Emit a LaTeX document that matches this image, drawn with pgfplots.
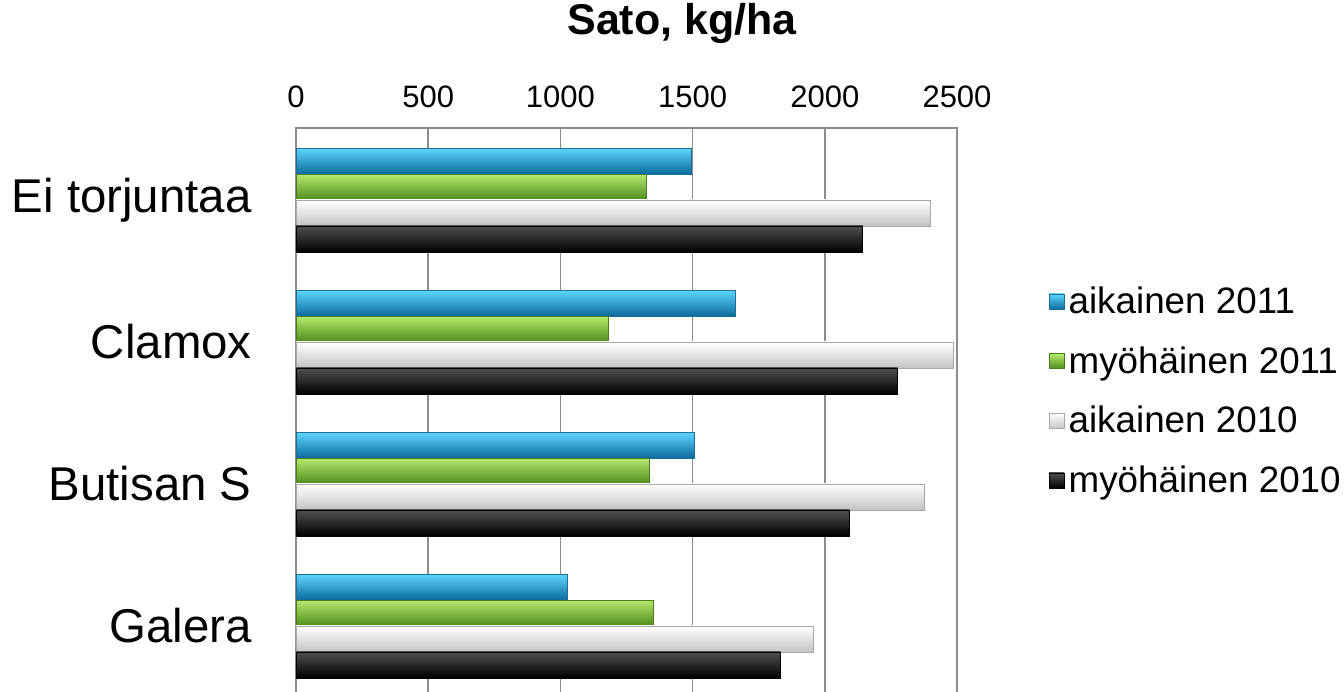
\documentclass[border=0pt]{standalone}
\usepackage{fontspec}
\setmainfont{Liberation Sans}
\usepackage{pgfplots}
\pgfplotsset{compat=1.18}
\definecolor{gridc}{HTML}{8C8C8C}
\definecolor{bT}{HTML}{5FD6FC}\definecolor{bM}{HTML}{1AA0DA}\definecolor{bB}{HTML}{0B6B9C}\definecolor{bD}{HTML}{1B6F96}
\definecolor{gT}{HTML}{B6EA6E}\definecolor{gM}{HTML}{7DB72F}\definecolor{gB}{HTML}{4F8A1C}\definecolor{gD}{HTML}{4E7A1E}
\definecolor{wT}{HTML}{FFFFFF}\definecolor{wM}{HTML}{F6F6F6}\definecolor{wB}{HTML}{C4C4C4}\definecolor{wD}{HTML}{A8A8A8}
\definecolor{kT}{HTML}{505050}\definecolor{kM}{HTML}{151515}\definecolor{kB}{HTML}{000000}\definecolor{kD}{HTML}{000000}
\pgfplotsset{
  sA/.style={bar shift=-0.2745, draw=bD, line width=0.4pt, top color=bT, middle color=bM, bottom color=bB},
  sG/.style={bar shift=-0.0915, draw=gD, line width=0.4pt, top color=gT, middle color=gM, bottom color=gB},
  sW/.style={bar shift=0.0915, draw=wD, line width=0.4pt, top color=wT, middle color=wM, bottom color=wB},
  sK/.style={bar shift=0.2745, draw=kD, line width=0.4pt, top color=kT, middle color=kM, bottom color=kB},
}
\begin{document}
\begin{tikzpicture}
\begin{axis}[
  at={(0,-2pt)}, anchor=south west,
  scale only axis, width=330.5pt, height=283.5pt,
  xbar, bar width=0.183,
  xmin=0, xmax=2500,
  ymin=-0.507, ymax=3.486, y dir=reverse,
  xtick={0,500,...,2500},
  xticklabel pos=upper,
  xmajorgrids, grid style={gridc, line width=0.8pt},
  axis line style={gridc, line width=0.8pt},
  major tick length=0pt,
  ytick={0,1,2,3},
  yticklabels={Ei torjuntaa, Clamox, Butisan S, Galera},
  yticklabel style={font=\fontsize{23.7}{26}\selectfont, inner sep=0pt, xshift=-22pt},
  xticklabel style={font=\fontsize{15.5}{18}\selectfont, inner sep=0pt, yshift=10pt},
  /pgf/number format/assume math mode=true,
  /pgf/number format/1000 sep={},
  title={\bfseries Sato, kg/ha},
  title style={font=\fontsize{21.5}{24}\selectfont, at={(rel axis cs:0.584,1)}, anchor=center, yshift=46.5pt, inner sep=0pt},
  legend style={draw=none, fill=none, at={(rel axis cs:1.138,0.536)}, anchor=west,
    font=\fontsize{18.4}{20}\selectfont, row sep=11pt, inner sep=0pt,
    /tikz/every even column/.append style={column sep=1.5pt}},
  legend cell align=left,
  legend image code/.code={\path[#1] (0pt,-3.8pt) rectangle (7.6pt,3.8pt);},
]
% Ei torjuntaa (legend entries)
\addplot[sA] coordinates {(1494,0)};
\addplot[sG] coordinates {(1325,0)};
\addplot[sW] coordinates {(2400,0)};
\addplot[sK] coordinates {(2144,0)};
% Clamox
\addplot[sA, forget plot] coordinates {(1660,1)};
\addplot[sG, forget plot] coordinates {(1181,1)};
\addplot[sW, forget plot] coordinates {(2486,1)};
\addplot[sK, forget plot] coordinates {(2275,1)};
% Butisan S
\addplot[sA, forget plot] coordinates {(1508,2)};
\addplot[sG, forget plot] coordinates {(1338,2)};
\addplot[sW, forget plot] coordinates {(2376,2)};
\addplot[sK, forget plot] coordinates {(2094,2)};
% Galera
\addplot[sA, forget plot] coordinates {(1025,3)};
\addplot[sG, forget plot] coordinates {(1350,3)};
\addplot[sW, forget plot] coordinates {(1956,3)};
\addplot[sK, forget plot] coordinates {(1833,3)};
\legend{aikainen 2011, myöhäinen 2011, aikainen 2010, myöhäinen 2010}
\end{axis}
\pgfresetboundingbox
\path[use as bounding box] (-148pt,0pt) rectangle (524pt,345.5pt);
\end{tikzpicture}
\end{document}
